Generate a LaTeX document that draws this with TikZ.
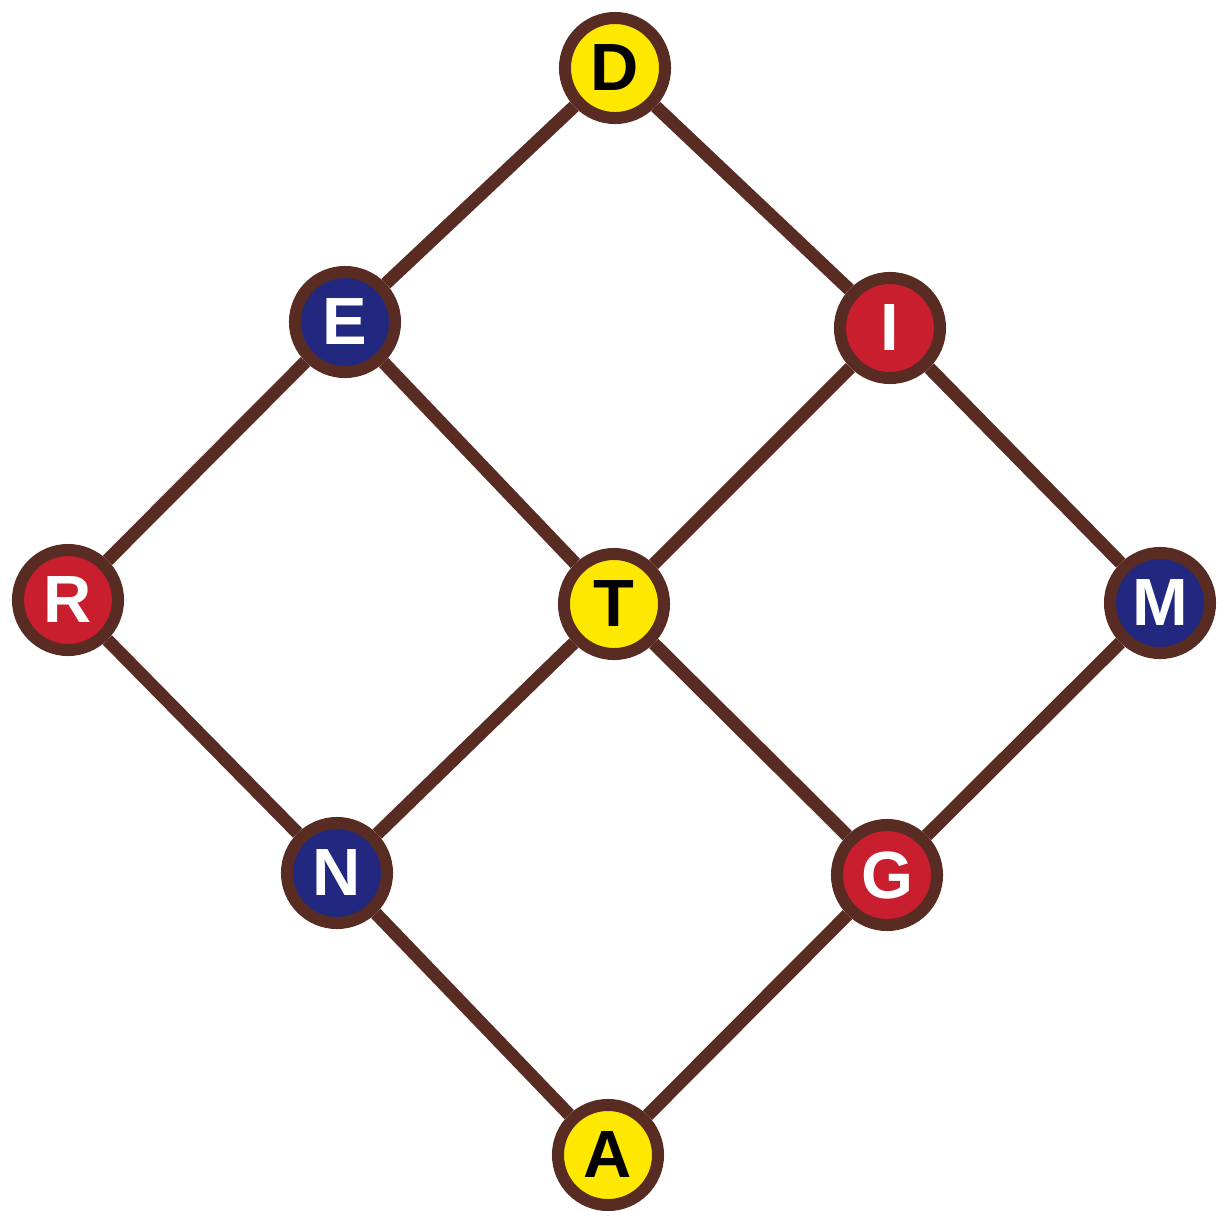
\documentclass[tikz,border=0pt]{standalone}
\usepackage{fontspec}
\setmainfont{Liberation Sans}
\definecolor{rodbrown}{RGB}{88,44,34}
\definecolor{ballyellow}{RGB}{255,232,0}
\definecolor{ballblue}{RGB}{34,40,128}
\definecolor{ballred}{RGB}{200,30,46}
\tikzset{
	ball/.style={circle, draw=rodbrown, line width=0.12cm, minimum size=1.0cm, inner sep=0pt,
		font=\fontsize{19}{19}\selectfont\bfseries},
	rod/.style={draw=rodbrown, line width=0.13cm}
}
\begin{document}
\begin{tikzpicture}[x=0.01cm, y=-0.01cm]
	\useasboundingbox (0,0) rectangle (1217,1211);
	\foreach \nm / \x / \y / \col / \txt in {D/615/68/ballyellow/black, E/345/322/ballblue/white, I/890/328/ballred/white,
		R/68/600/ballred/white, T/614/604/ballyellow/black, M/1160/603/ballblue/white,
		N/337/873/ballblue/white, G/887/875/ballred/white, A/608/1155/ballyellow/black} {
		\node[ball, fill=\col, text=\txt] (\nm) at (\x,\y) {\nm};
	}
	\foreach \a / \b in {D/E, D/I, E/R, E/T, I/T, I/M, R/N, T/N, T/G, M/G, N/A, G/A} {
		\draw[rod] (\a) -- (\b);
	}
\end{tikzpicture}
\end{document}
